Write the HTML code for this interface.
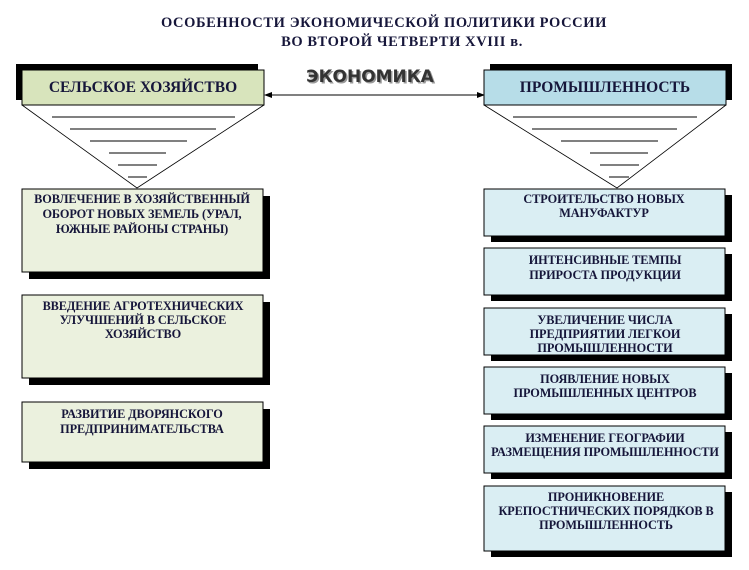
<!DOCTYPE html>
<html><head><meta charset="utf-8"><style>
html,body{margin:0;padding:0;background:#fff;}
svg{display:block;}
text{font-family:"Liberation Serif",serif;fill:#16163a;}
.t{font-size:12.3px;text-anchor:middle;font-weight:bold;letter-spacing:-0.1px;}
</style></head><body>
<svg width="749" height="570" viewBox="0 0 749 570" xmlns="http://www.w3.org/2000/svg">
<text x="384" y="27" text-anchor="middle" font-size="14.5" font-weight="bold" letter-spacing="0.6">ОСОБЕННОСТИ ЭКОНОМИЧЕСКОЙ ПОЛИТИКИ РОССИИ</text>
<text x="402" y="46" text-anchor="middle" font-size="14.5" font-weight="bold" letter-spacing="0.6">ВО ВТОРОЙ ЧЕТВЕРТИ XVIII в.</text>
<text x="370" y="82" text-anchor="middle" font-size="17" font-weight="bold" style="font-family:'DejaVu Sans',sans-serif;fill:#999" dx="1.5" dy="1.5">ЭКОНОМИКА</text>
<text x="370" y="82" text-anchor="middle" font-size="17" font-weight="bold" style="font-family:'DejaVu Sans',sans-serif;fill:#333">ЭКОНОМИКА</text>
<line x1="270" y1="95" x2="479" y2="95" stroke="#000" stroke-width="1"/>
<polygon points="264,95 272,92 272,98" fill="#000"/>
<polygon points="485,95 477,92 477,98" fill="#000"/>
<rect x="16" y="64" width="242" height="36" fill="#000"/>
<rect x="22" y="70" width="242" height="35" fill="#d8e4bc" stroke="#000" stroke-width="1"/>
<text x="143" y="92" text-anchor="middle" font-size="15.5" font-weight="bold">СЕЛЬСКОЕ ХОЗЯЙСТВО</text>
<polyline points="22,105 137,188 264,105" fill="none" stroke="#000" stroke-width="0.8"/>
<g stroke="#000" stroke-width="1">
<line x1="52" y1="117" x2="235" y2="117"/><line x1="70" y1="129" x2="216" y2="129"/>
<line x1="90" y1="141" x2="187" y2="141"/><line x1="109" y1="153" x2="166" y2="153"/>
<line x1="118" y1="165" x2="157" y2="165"/><line x1="128" y1="177" x2="147" y2="177"/>
</g>
<rect x="490" y="64" width="242" height="36" fill="#000"/>
<rect x="484" y="70" width="242" height="35" fill="#b7dde8" stroke="#000" stroke-width="1"/>
<text x="605" y="92" text-anchor="middle" font-size="15.5" font-weight="bold">ПРОМЫШЛЕННОСТЬ</text>
<polyline points="484,105 617,188 726,105" fill="none" stroke="#000" stroke-width="0.8"/>
<g stroke="#000" stroke-width="1">
<line x1="513" y1="117" x2="697" y2="117"/><line x1="532" y1="129" x2="677" y2="129"/>
<line x1="561" y1="141" x2="658" y2="141"/><line x1="590" y1="153" x2="648" y2="153"/>
<line x1="600" y1="165" x2="639" y2="165"/><line x1="609" y1="177" x2="629" y2="177"/>
</g>
<g fill="#000">
<rect x="29" y="196" width="241" height="83"/>
<rect x="29" y="302" width="241" height="83"/>
<rect x="29" y="409" width="241" height="60"/>
</g>
<g fill="#ebf1de" stroke="#000" stroke-width="1">
<rect x="22" y="189" width="241" height="83"/>
<rect x="22" y="295" width="241" height="83"/>
<rect x="22" y="402" width="241" height="60"/>
</g>
<text class="t" x="142" y="203">ВОВЛЕЧЕНИЕ В ХОЗЯЙСТВЕННЫЙ</text>
<text class="t" x="142" y="218">ОБОРОТ НОВЫХ ЗЕМЕЛЬ (УРАЛ,</text>
<text class="t" x="142" y="233">ЮЖНЫЕ РАЙОНЫ СТРАНЫ)</text>
<text class="t" x="143" y="310">ВВЕДЕНИЕ АГРОТЕХНИЧЕСКИХ</text>
<text class="t" x="143" y="324">УЛУЧШЕНИЙ В СЕЛЬСКОЕ</text>
<text class="t" x="143" y="338">ХОЗЯЙСТВО</text>
<text class="t" x="142" y="418">РАЗВИТИЕ ДВОРЯНСКОГО</text>
<text class="t" x="142" y="433">ПРЕДПРИНИМАТЕЛЬСТВА</text>
<g fill="#000">
<rect x="491" y="195" width="241" height="47"/>
<rect x="491" y="254" width="241" height="47"/>
<rect x="491" y="314" width="241" height="47"/>
<rect x="491" y="373" width="241" height="47"/>
<rect x="491" y="432" width="241" height="47"/>
<rect x="491" y="492" width="241" height="65"/>
</g>
<g fill="#daeef3" stroke="#000" stroke-width="1">
<rect x="484" y="189" width="241" height="47"/>
<rect x="484" y="248" width="241" height="47"/>
<rect x="484" y="308" width="241" height="47"/>
<rect x="484" y="367" width="241" height="47"/>
<rect x="484" y="426" width="241" height="47"/>
<rect x="484" y="486" width="241" height="65"/>
</g>
<text class="t" x="604" y="203">СТРОИТЕЛЬСТВО НОВЫХ</text>
<text class="t" x="604" y="217">МАНУФАКТУР</text>
<text class="t" x="605" y="264">ИНТЕНСИВНЫЕ ТЕМПЫ</text>
<text class="t" x="605" y="279">ПРИРОСТА ПРОДУКЦИИ</text>
<text class="t" x="605" y="324">УВЕЛИЧЕНИЕ ЧИСЛА</text>
<text class="t" x="605" y="338">ПРЕДПРИЯТИИ ЛЕГКОИ</text>
<text class="t" x="605" y="352">ПРОМЫШЛЕННОСТИ</text>
<text class="t" x="605" y="383">ПОЯВЛЕНИЕ НОВЫХ</text>
<text class="t" x="605" y="397">ПРОМЫШЛЕННЫХ ЦЕНТРОВ</text>
<text class="t" x="605" y="442">ИЗМЕНЕНИЕ ГЕОГРАФИИ</text>
<text class="t" x="605" y="456">РАЗМЕЩЕНИЯ ПРОМЫШЛЕННОСТИ</text>
<text class="t" x="606" y="501">ПРОНИКНОВЕНИЕ</text>
<text class="t" x="606" y="515">КРЕПОСТНИЧЕСКИХ ПОРЯДКОВ В</text>
<text class="t" x="606" y="529">ПРОМЫШЛЕННОСТЬ</text>
</svg>
</body></html>
